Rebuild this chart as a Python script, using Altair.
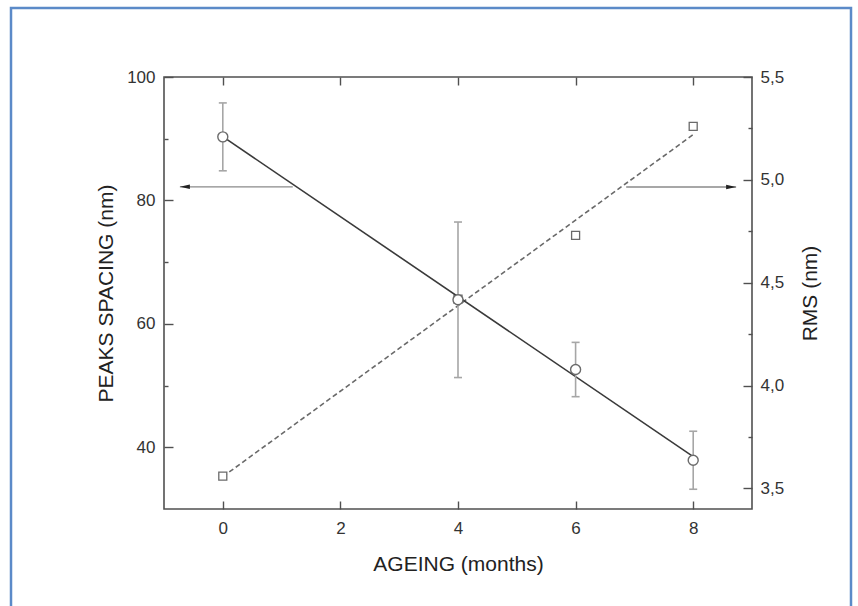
import altair as alt
import pandas as pd

# ---- data ----
age = [0, 4, 6, 8]
peaks = [90.3, 63.9, 52.6, 37.9]          # PEAKS SPACING (nm), left axis
peaks_err = [5.5, 12.6, 4.4, 4.7]
rms = [3.56, 4.42, 4.73, 5.26]             # RMS (nm), right axis

x_ticks = [0, 2, 4, 6, 8]
yl_major = [40, 60, 80, 100]
yl_minor = [50, 70, 90]
yr_major = [3.5, 4.0, 4.5, 5.0, 5.5]
yr_minor = [3.75, 4.25, 4.75, 5.25]

# arrows pointing to the axes (tail x, tip x, level)
arrow_left = {"tail": [1.19], "tip": [-0.73], "level": [82.2]}
arrow_right = {"tail": [6.86], "tip": [8.73], "level": [4.965]}

df = pd.DataFrame({"age": age, "peaks": peaks, "err": peaks_err, "rms": rms})
dfl = pd.DataFrame(arrow_left)
dfr = pd.DataFrame(arrow_right)

W, H = 588, 432
FONT = "Liberation Sans"
TICK = "#505050"
LAB = "#333333"

xs = alt.Scale(domain=[-1, 9], nice=False, zero=False)
yls = alt.Scale(domain=[30, 100], nice=False, zero=False)
yrs = alt.Scale(domain=[3.4, 5.5], nice=False, zero=False)

x_main = alt.Axis(orient="bottom", values=x_ticks, ticks=False, tickSize=0, domain=False,
                  grid=False, labelFontSize=17, labelFont=FONT, labelColor=LAB, labelPadding=11,
                  titleFont=FONT, titleFontSize=21, titleFontWeight="normal", titleColor="#222222",
                  titleX=W / 2, titleY=55, titleAlign="center", titleBaseline="middle")
x_tick_bottom = alt.Axis(orient="top", offset=-H, values=x_ticks, labels=False, domain=False,
                         grid=False, tickSize=8, tickColor=TICK, tickWidth=1.4)
x_tick_top = alt.Axis(orient="bottom", offset=-H, values=x_ticks, labels=False, domain=False,
                      grid=False, tickSize=8, tickColor=TICK, tickWidth=1.4)

yl_main = alt.Axis(orient="left", values=yl_major, ticks=False, tickSize=0, domain=False, grid=False,
                   labelFontSize=17, labelFont=FONT, labelColor=LAB, labelPadding=9,
                   titleFont=FONT, titleFontSize=21, titleFontWeight="normal", titleColor="#222222",
                   titleX=-58, titleY=H / 2, titleAngle=270, titleAlign="center", titleBaseline="middle")
yl_maj = alt.Axis(orient="right", offset=-W, values=yl_major, labels=False, domain=False, grid=False,
                  tickSize=9, tickColor=TICK, tickWidth=1.4)
yl_min = alt.Axis(orient="right", offset=-W, values=yl_minor, labels=False, domain=False, grid=False,
                  tickSize=4, tickColor=TICK, tickWidth=1.4)

yr_main = alt.Axis(orient="right", values=yr_major, ticks=False, tickSize=0, domain=False, grid=False,
                   labelFontSize=17, labelFont=FONT, labelColor=LAB, labelPadding=8,
                   labelExpr="replace(format(datum.value, '.1f'), '.', ',')",
                   titleFont=FONT, titleFontSize=21, titleFontWeight="normal", titleColor="#222222",
                   titleX=58, titleY=H / 2, titleAngle=270, titleAlign="center", titleBaseline="middle")
yr_maj = alt.Axis(orient="left", offset=-W, values=yr_major, labels=False, domain=False, grid=False,
                  tickSize=9, tickColor=TICK, tickWidth=1.4)
yr_min = alt.Axis(orient="left", offset=-W, values=yr_minor, labels=False, domain=False, grid=False,
                  tickSize=4, tickColor=TICK, tickWidth=1.4)

base = alt.Chart(df)

peak_line = base.transform_regression("age", "peaks").mark_line(
    color="#3a3a3a", strokeWidth=1.6).encode(
    x=alt.X("age:Q", scale=xs, axis=x_main, title="AGEING (months)"),
    y=alt.Y("peaks:Q", scale=yls, axis=yl_main, title="PEAKS SPACING (nm)"))

err_rule = base.transform_calculate(
    lo="datum.peaks - datum.err", hi="datum.peaks + datum.err").mark_rule(
    color="#a6a6a6", strokeWidth=1.6).encode(
    x=alt.X("age:Q", scale=xs, axis=x_tick_bottom, title=None),
    y=alt.Y("lo:Q", scale=yls, axis=yl_maj, title=None),
    y2="hi:Q")

caps = base.transform_calculate(
    lo="datum.peaks - datum.err", hi="datum.peaks + datum.err").transform_fold(
    ["lo", "hi"], as_=["end", "val"]).mark_tick(
    orient="horizontal", size=8, thickness=1.6, color="#a6a6a6", opacity=1).encode(
    x=alt.X("age:Q", scale=xs, axis=x_tick_top, title=None),
    y=alt.Y("val:Q", scale=yls, axis=yl_min, title=None))

circles = base.mark_point(shape="circle", size=100, filled=True, fill="white", stroke="#6a6a6a",
                          strokeWidth=1.4, opacity=1).encode(
    x=alt.X("age:Q", scale=xs, axis=None),
    y=alt.Y("peaks:Q", scale=yls, axis=None))

arrowl_rule = alt.Chart(dfl).mark_rule(color="#8a8a8a", strokeWidth=1.4).encode(
    x=alt.X("tail:Q", scale=xs, axis=None), x2="tip:Q",
    y=alt.Y("level:Q", scale=yls, axis=None))
arrowl_head = alt.Chart(dfl).mark_point(shape="M0,0L2,-0.45L2,0.45Z", size=100, filled=True,
                                        color="#222222", opacity=1, strokeWidth=0).encode(
    x=alt.X("tip:Q", scale=xs, axis=None),
    y=alt.Y("level:Q", scale=yls, axis=None))

left_group = alt.layer(peak_line, err_rule, caps, circles, arrowl_rule, arrowl_head).resolve_axis(
    x="independent", y="independent")

rms_line = base.transform_regression("age", "rms").mark_line(
    color="#6a6a6a", strokeWidth=1.6, strokeDash=[5, 3]).encode(
    x=alt.X("age:Q", scale=xs, axis=None),
    y=alt.Y("rms:Q", scale=yrs, axis=yr_main, title="RMS (nm)"))

squares = base.mark_point(shape="square", size=64, filled=True, fill="white", stroke="#6a6a6a",
                          strokeWidth=1.3, opacity=1).encode(
    x=alt.X("age:Q", scale=xs, axis=None),
    y=alt.Y("rms:Q", scale=yrs, axis=yr_maj, title=None))

arrowr_rule = alt.Chart(dfr).mark_rule(color="#8a8a8a", strokeWidth=1.4).encode(
    x=alt.X("tail:Q", scale=xs, axis=None), x2="tip:Q",
    y=alt.Y("level:Q", scale=yrs, axis=yr_min, title=None))
arrowr_head = alt.Chart(dfr).mark_point(shape="M0,0L-2,-0.45L-2,0.45Z", size=100, filled=True,
                                        color="#222222", opacity=1, strokeWidth=0).encode(
    x=alt.X("tip:Q", scale=xs, axis=None),
    y=alt.Y("level:Q", scale=yrs, axis=None))

right_group = alt.layer(rms_line, squares, arrowr_rule, arrowr_head).resolve_axis(
    x="independent", y="independent")

border = alt.Chart(pd.DataFrame({"a": [0]})).mark_rect(
    fillOpacity=0, stroke="#5b8ac8", strokeWidth=2.5).encode(
    x=alt.value(-153), x2=alt.value(687), y=alt.value(-69), y2=alt.value(540))

chart = alt.layer(right_group, left_group, border).resolve_scale(
    y="independent").resolve_axis(x="independent", y="independent").properties(
    width=W, height=H,
    autosize=alt.AutoSizeParams(type="none"),
    padding={"left": 164, "top": 77, "right": 106, "bottom": 97},
    background="white",
).configure_view(stroke="#505050", strokeWidth=1.6)

chart.save("out.html", embed_options={"renderer": "svg", "actions": False})
